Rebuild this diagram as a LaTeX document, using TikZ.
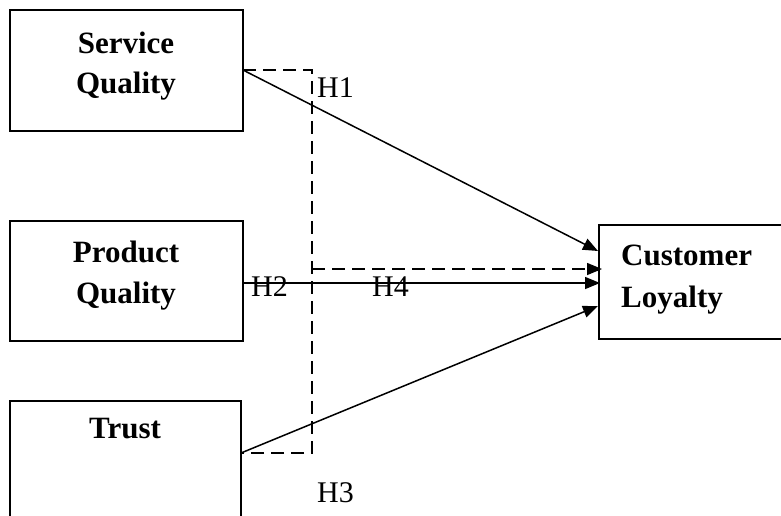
\documentclass[tikz,border=0pt]{standalone}
\usepackage{fontspec}
\setmainfont{Liberation Serif}
\usetikzlibrary{arrows.meta}
\begin{document}
\begin{tikzpicture}[x=1pt,y=-1pt,
  boxstyle/.style={draw,line width=1.5pt},
  lbl/.style={font=\fontsize{31}{37}\selectfont\bfseries,inner sep=0pt,anchor=base},
  hyp/.style={font=\fontsize{30}{36}\selectfont,inner sep=0pt,anchor=base west},
  conn/.style={line width=1.5pt},
  dashconn/.style={line width=1.5pt,dash pattern=on 13pt off 7pt},
  tip/.style={-{Triangle[length=15pt,width=12pt]}}]
\useasboundingbox (0,0) rectangle (781,515);
\clip (0,0) rectangle (781,515);
\fill[white] (0,0) rectangle (781,515);
% boxes
\draw[boxstyle] (10,10) rectangle (243,131);
\draw[boxstyle] (10,221) rectangle (243,341);
\draw[boxstyle] (10,401) rectangle (241,520);
\draw[boxstyle] (599,225) rectangle (790,339);
% box texts
\node[lbl] (sq1) at (126,53) {Service};
\node[lbl] (sq2) at (126,93) {Quality};
\node[lbl] (pq1) at (126,262) {Product};
\node[lbl] (pq2) at (126,303) {Quality};
\node[lbl] (tr) at (125,438) {Trust};
\node[lbl,anchor=base west] (cl1) at (621,265) {Customer};
\node[lbl,anchor=base west] (cl2) at (621,307) {Loyalty};
% anchor coordinates
\coordinate (sqR) at (243,70);
\coordinate (pqR) at (243,283);
\coordinate (trR) at (241,453);
\coordinate (dTop) at (312,70);
\coordinate (dMid) at (312,269);
\coordinate (dBot) at (312,453);
\coordinate (c1) at (598,251);
\coordinate (c2) at (602,269);
\coordinate (c3) at (600,283);
\coordinate (c4) at (598,306);
% dashed bracket
\draw[dashconn] (sqR) -- (dTop) -- (dBot) -- (trR);
\draw[dashconn,tip] (dMid) -- (c2);
% solid arrows
\draw[conn,tip] (sqR) -- (c1);
\draw[conn,tip] (pqR) -- (c3);
\draw[conn,tip] (trR) -- (c4);
% hypothesis labels
\node[hyp] (h1) at (317,97) {H1};
\node[hyp] (h2) at (251,296) {H2};
\node[hyp] (h4) at (372,296) {H4};
\node[hyp] (h3) at (317,502) {H3};
\end{tikzpicture}
\end{document}
